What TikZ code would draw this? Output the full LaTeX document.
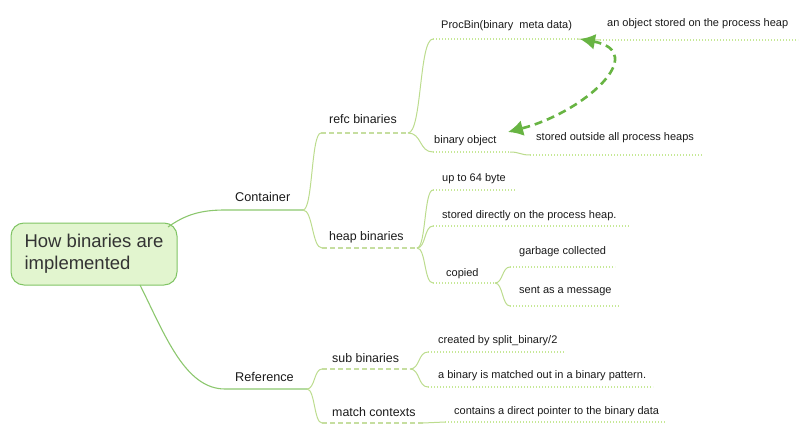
\documentclass[tikz,border=0pt]{standalone}
\usepackage{fontspec}
\setmainfont{Liberation Sans}
\usetikzlibrary{arrows.meta}
\definecolor{rootfill}{HTML}{E2F5CF}
\definecolor{rootdraw}{HTML}{80C464}
\definecolor{mainlink}{HTML}{8CC76E}
\definecolor{sublink}{HTML}{BCDC8E}
\definecolor{dashcol}{HTML}{C6DEA0}
\definecolor{dotcol}{HTML}{C6E896}
\definecolor{arrowcol}{HTML}{68B443}
\definecolor{txt}{HTML}{1A1A1A}
\definecolor{roottxt}{HTML}{333333}
\begin{document}
\begin{tikzpicture}[x=1pt,y=-1pt,
  lvlone/.style={font=\fontsize{12.7}{15}\selectfont, text=txt, anchor=base west, inner sep=0pt},
  lvltwo/.style={font=\fontsize{12.4}{15}\selectfont, text=txt, anchor=base west, inner sep=0pt},
  leaf/.style={font=\fontsize{11}{13}\selectfont, text=txt, anchor=base west, inner sep=0pt},
  mainline/.style={draw=mainlink, line width=1.1pt},
  subline/.style={draw=sublink, line width=1pt},
  dashline/.style={draw=dashcol, line width=1.5pt, dash pattern=on 5pt off 3pt},
  dotline/.style={draw=dotcol, line width=1.5pt, dash pattern=on 1.4pt off 1.6pt},
  rootbox/.style={draw=rootdraw, fill=rootfill, line width=1pt, rounded corners=13pt,
    minimum width=166pt, minimum height=62pt, inner sep=0pt, align=left,
    font=\fontsize{18.5}{22}\selectfont, text=roottxt},
]
\useasboundingbox (0,0) rectangle (806,433);

% root
\node[rootbox] (root) at (94,254) {How binaries are\\implemented};
\coordinate (rootA) at (168,227);
\coordinate (rootB) at (140,285);

% level 1
\coordinate (cL) at (225,210); \coordinate (cR) at (303,210);
\node[lvlone] (container) at (235,201) {Container};
\coordinate (rL) at (225,389); \coordinate (rR) at (307,389);
\node[lvlone] (reference) at (235,381) {Reference};

% level 2
\coordinate (refcL) at (321,133); \coordinate (refcR) at (408,133);
\node[lvltwo] (refc) at (329,124) {refc binaries};
\coordinate (heapL) at (322,248); \coordinate (heapR) at (417,248);
\node[lvltwo] (heap) at (329,240) {heap binaries};
\coordinate (subL) at (322,369); \coordinate (subR) at (410,369);
\node[lvltwo] (sub) at (332,362) {sub binaries};
\coordinate (matchL) at (322,423); \coordinate (matchR) at (423,423);
\node[lvltwo] (match) at (332,416) {match contexts};

% leaves
\coordinate (procL) at (433,39); \coordinate (procR) at (578,39);
\node[leaf] (proc) at (441,29) {ProcBin(binary\ \ meta data)};
\coordinate (anL) at (600,40); \coordinate (anR) at (798,40);
\node[leaf] (anobj) at (607,27) {an object stored on the process heap};
\coordinate (boL) at (433,152); \coordinate (boR) at (510,152);
\node[leaf] (binobj) at (434,143) {binary object};
\coordinate (soL) at (530,155); \coordinate (soR) at (703,155);
\node[leaf] (stout) at (536,141) {stored outside all process heaps};
\coordinate (upL) at (433,190); \coordinate (upR) at (515,190);
\node[leaf] (up) at (442,182) {up to 64 byte};
\coordinate (sdL) at (433,226); \coordinate (sdR) at (630,226);
\node[leaf] (stdir) at (442,218) {stored directly on the process heap.};
\coordinate (coL) at (433,283); \coordinate (coR) at (495,283);
\node[leaf] (copied) at (446,276) {copied};
\coordinate (gaL) at (510,267); \coordinate (gaR) at (615,267);
\node[leaf] (garbage) at (519,254) {garbage collected};
\coordinate (seL) at (510,306); \coordinate (seR) at (620,306);
\node[leaf] (sent) at (519,293) {sent as a message};
\coordinate (crL) at (428,352); \coordinate (crR) at (565,352);
\node[leaf] (created) at (438,343) {created by split\_binary/2};
\coordinate (abL) at (428,387); \coordinate (abR) at (653,387);
\node[leaf] (abin) at (438,378) {a binary is matched out in a binary pattern.};
\coordinate (ctL) at (445,422); \coordinate (ctR) at (665,422);
\node[leaf] (contains) at (454,414) {contains a direct pointer to the binary data};

% root links
\draw[mainline] (rootA) .. controls (185,215) and (200,210) .. (cL) -- (cR);
\draw[mainline] (rootB) .. controls (165,335) and (185,389) .. (rL) -- (rR);

% level-1 to level-2 links
\draw[subline] (cR) .. controls +(10,0) and +(-10,0) .. (refcL);
\draw[subline] (cR) .. controls +(10,0) and +(-10,0) .. (heapL);
\draw[subline] (rR) .. controls +(8,0) and +(-8,0) .. (subL);
\draw[subline] (rR) .. controls +(8,0) and +(-8,0) .. (matchL);

% level-2 to leaf links
\draw[subline] (refcR) .. controls +(14,0) and +(-14,0) .. (procL);
\draw[subline] (refcR) .. controls +(14,0) and +(-14,0) .. (boL);
\draw[subline] (heapR) .. controls +(9,0) and +(-9,0) .. (upL);
\draw[subline] (heapR) .. controls +(9,0) and +(-9,0) .. (sdL);
\draw[subline] (heapR) .. controls +(9,0) and +(-9,0) .. (coL);
\draw[subline] (coR) .. controls +(8,0) and +(-8,0) .. (gaL);
\draw[subline] (coR) .. controls +(8,0) and +(-8,0) .. (seL);
\draw[subline] (subR) .. controls +(10,0) and +(-10,0) .. (crL);
\draw[subline] (subR) .. controls +(10,0) and +(-10,0) .. (abL);
\draw[subline] (procR) -- (anL);
\draw[subline] (boR) .. controls +(10,0) and +(-10,0) .. (soL);
\draw[subline] (matchR) -- (ctL);

% underlines
\draw[dashline] (refcL) -- (refcR);
\draw[dashline] (heapL) -- (heapR);
\draw[dashline] (subL) -- (subR);
\draw[dashline] (matchL) -- (matchR);
\foreach \a/\b in {procL/procR, anL/anR, boL/boR, soL/soR, upL/upR, sdL/sdR,
  coL/coR, gaL/gaR, seL/seR, crL/crR, abL/abR, ctL/ctR}
  \draw[dotline] (\a) -- (\b);

% relation arrow
\coordinate (arrA) at (580,39);
\coordinate (arrB) at (508,132);
\draw[draw=arrowcol, line width=2.6pt, dash pattern=on 8pt off 5pt,
  {Latex[length=15pt,width=16pt]}-{Latex[length=15pt,width=16pt]}]
  (arrA) .. controls (650,52) and (585,112) .. (arrB);
\end{tikzpicture}
\end{document}
